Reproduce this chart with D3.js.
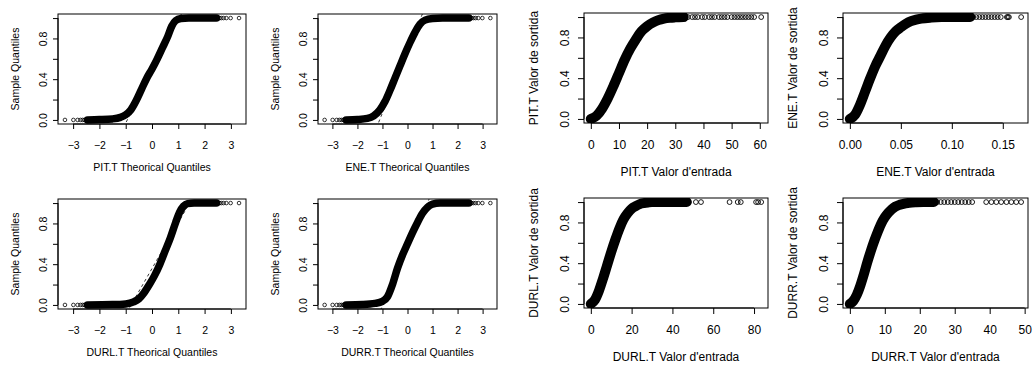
<!DOCTYPE html>
<html>
<head>
<meta charset="utf-8">
<script src="https://cdn.jsdelivr.net/npm/d3@7"></script>
<style>
  body { margin: 0; background: #fff; }
  svg { display: block; font-family: "Liberation Sans", Arial, sans-serif; }
</style>
</head>
<body>
<script>
"use strict";
(function(){
    // ---- data ----
    // qq panels: [theoretical quantile, sample quantile] along the dense band
    const pitQQ = [[-2.45,0],[-2,0.003],[-1.5,0.01],[-1.2,0.025],[-1.0,0.05],[-0.8,0.1],[-0.6,0.19],
        [-0.4,0.3],[-0.2,0.41],[0,0.5],[0.2,0.6],[0.4,0.71],[0.6,0.82],[0.75,0.92],[0.9,0.975],
        [1.1,0.995],[1.4,1.0],[2.45,1.0]]
    const eneQQ = [[-2.45,0],[-2,0.004],[-1.6,0.015],[-1.35,0.04],[-1.1,0.1],[-0.9,0.18],[-0.7,0.29],
        [-0.5,0.41],[-0.3,0.53],[-0.1,0.65],[0.1,0.76],[0.3,0.86],[0.5,0.94],[0.7,0.98],[1.0,0.995],
        [1.4,1.0],[2.45,1.0]]
    const durlQQ = [[-2.45,0],[-1.5,0.003],[-1.0,0.01],[-0.7,0.03],[-0.5,0.06],[-0.3,0.12],[-0.1,0.2],
        [0.1,0.29],[0.3,0.4],[0.5,0.53],[0.7,0.66],[0.9,0.81],[1.05,0.91],[1.2,0.97],[1.35,0.995],
        [1.6,1.0],[2.45,1.0]]
    const durrQQ = [[-2.45,0],[-1.8,0.004],[-1.3,0.015],[-1.0,0.035],[-0.8,0.08],[-0.6,0.2],[-0.4,0.36],
        [-0.2,0.49],[0,0.6],[0.2,0.71],[0.4,0.81],[0.6,0.9],[0.8,0.96],[1.0,0.99],[1.3,1.0],[2.45,1.0]]
    // sparse circles at both ends of every qq panel
    const qqTailLow = [-3.31, -2.99, -2.83, -2.72, -2.64, -2.57, -2.51]
    const qqTailHigh = [2.51, 2.57, 2.64, 2.72, 2.83, 2.99, 3.31]
    // dashed qq reference lines, two points each
    const pitLine = [[-0.94, 0.0], [0.9, 0.93]]
    const eneLine = [[-1.13, -0.01], [0.2, 0.8]]
    const durlLine = [[-0.86, -0.03], [0.25, 0.47]]
    const durrLine = [[-1.02, -0.02], [0.81, 1.01]]

    // transfer panels: [valor d'entrada, valor de sortida]
    const pitCurve = [[0,0],[2,0.03],[4,0.1],[6,0.2],[8,0.32],[10,0.45],[12,0.58],[14,0.69],[16,0.78],
        [18,0.86],[20,0.91],[22,0.945],[24,0.97],[26,0.985],[28,0.993],[30,0.997],[33,1.0]]
    const pitTail = [34.5, 36, 37, 38, 39.5, 40.5, 42, 43, 44, 45.5, 46.5, 47.5, 48.5, 50, 51, 52, 53,
        54, 55, 56, 57, 58, 60.5]
    const eneCurve = [[0,0],[0.005,0.04],[0.01,0.14],[0.015,0.27],[0.02,0.4],[0.025,0.52],[0.03,0.62],
        [0.035,0.72],[0.04,0.8],[0.045,0.86],[0.05,0.9],[0.055,0.935],[0.06,0.96],[0.065,0.975],
        [0.07,0.985],[0.08,0.995],[0.09,1.0],[0.118,1.0]]
    const eneTail = [0.121, 0.124, 0.127, 0.13, 0.133, 0.136, 0.139, 0.142, 0.145, 0.148, 0.154, 0.155,
        0.156, 0.168]
    const durlCurve = [[0,0],[2,0.04],[4,0.13],[6,0.25],[8,0.38],[10,0.51],[12,0.63],[14,0.74],[16,0.83],
        [18,0.89],[20,0.935],[22,0.96],[24,0.98],[26,0.99],[28,0.996],[30,1.0],[47,1.0]]
    const durlTail = [48, 51.5, 54, 68, 72, 73.5, 81, 82, 83.5]
    const durrCurve = [[0,0],[1,0.03],[2,0.09],[3,0.18],[4,0.29],[5,0.41],[6,0.52],[7,0.62],[8,0.71],
        [9,0.79],[10,0.85],[11,0.895],[12,0.93],[13,0.955],[14,0.97],[15,0.98],[17,0.993],[19,0.998],
        [21,1.0],[24,1.0]]
    const durrTail = [25, 26, 27, 28, 29, 30, 31, 32, 33, 34, 35, 39, 40.5, 41.9, 43.3, 44.8, 46.2,
        47.6, 49]

    // tick labels
    const qqTicks = [-3, -2, -1, 0, 1, 2, 3]
    const pitTicks = [0, 10, 20, 30, 40, 50, 60]
    const eneTicks = [0, 0.05, 0.10, 0.15]
    const durlTicks = [0, 20, 40, 60, 80]
    const durrTicks = [0, 10, 20, 30, 40, 50]
    const yTicks = [0, 0.2, 0.4, 0.6, 0.8, 1.0]
    const yLabelled = [0, 0.4, 0.8]

    const width = 1034, height = 367

    // styles for the two halves of the figure
    const smallStyle = { font: 10.5, tick: 5, lab: 21, title: 43, yLab: 15, yTitle: 43, r: 1.8, sw: 0.8, band: 7.5 }
    const bigStyle = { font: 12, tick: 6, lab: 22, title: 49, yLab: 19, yTitle: 50, r: 2.4, sw: 0.9, band: 10 }

    const minus = d => d3.format("")(d).replace("-", "\u2212")
    const both = qqTailLow.map(v => [v, 0]).concat(qqTailHigh.map(v => [v, 1]))

    const panels = [
        { curve: pitQQ, tail: both, line: pitLine, xTicks: qqTicks, fmt: minus,
          xTitle: "PIT.T Theorical Quantiles", yTitle: "Sample Quantiles", box: [58, 246, 14, 124], st: smallStyle },
        { curve: eneQQ, tail: both, line: eneLine, xTicks: qqTicks, fmt: minus,
          xTitle: "ENE.T Theorical Quantiles", yTitle: "Sample Quantiles", box: [318, 497, 14, 124], st: smallStyle },
        { curve: pitCurve, tail: pitTail.map(v => [v, 1]), xTicks: pitTicks, fmt: d3.format("d"),
          xTitle: "PIT.T Valor d'entrada", yTitle: "PIT.T Valor de sortida", box: [584, 768, 13, 123], st: bigStyle },
        { curve: eneCurve, tail: eneTail.map(v => [v, 1]), xTicks: eneTicks, fmt: d3.format(".2f"),
          xTitle: "ENE.T Valor d'entrada", yTitle: "ENE.T Valor de sortida", box: [843, 1028, 13, 123], st: bigStyle },
        { curve: durlQQ, tail: both, line: durlLine, xTicks: qqTicks, fmt: minus,
          xTitle: "DURL.T Theorical Quantiles", yTitle: "Sample Quantiles", box: [58, 246, 199, 309], st: smallStyle },
        { curve: durrQQ, tail: both, line: durrLine, xTicks: qqTicks, fmt: minus,
          xTitle: "DURR.T Theorical Quantiles", yTitle: "Sample Quantiles", box: [318, 497, 199, 309], st: smallStyle },
        { curve: durlCurve, tail: durlTail.map(v => [v, 1]), xTicks: durlTicks, fmt: d3.format("d"),
          xTitle: "DURL.T Valor d'entrada", yTitle: "DURL.T Valor de sortida", box: [584, 768, 198, 308], st: bigStyle },
        { curve: durrCurve, tail: durrTail.map(v => [v, 1]), xTicks: durrTicks, fmt: d3.format("d"),
          xTitle: "DURR.T Valor d'entrada", yTitle: "DURR.T Valor de sortida", box: [843, 1028, 198, 308], st: bigStyle }
    ]

    const svg = d3.select("body").append("svg")
        .attr("width", width)
        .attr("height", height)

    panels.forEach((p, i) => drawPanel(p, i))

    // R style range: data extent padded by 4% on each side
    function padded(ext) {
        const d = (ext[1] - ext[0]) * 0.04
        return [ext[0] - d, ext[1] + d]
    }

    function drawPanel(p, i) {
        const [x0, x1, y0, y1] = p.box
        const st = p.st
        const all = p.curve.concat(p.tail)
        const x = d3.scaleLinear().domain(padded(d3.extent(all, d => d[0]))).range([x0, x1])
        const y = d3.scaleLinear().domain(padded([0, 1])).range([y1, y0])

        const g = svg.append("g")
        const clipId = "clip" + i
        g.append("clipPath").attr("id", clipId)
            .append("rect").attr("x", x0).attr("y", y0).attr("width", x1 - x0).attr("height", y1 - y0)

        const plot = g.append("g").attr("clip-path", `url(#${clipId})`)

        // dashed qq line, extended across the plot
        if (p.line) {
            const [a, b] = p.line
            const slope = (b[1] - a[1]) / (b[0] - a[0])
            const xd = x.domain()
            plot.append("line")
                .attr("x1", x(xd[0])).attr("y1", y(a[1] + slope * (xd[0] - a[0])))
                .attr("x2", x(xd[1])).attr("y2", y(a[1] + slope * (xd[1] - a[0])))
                .attr("stroke", "#000")
                .attr("stroke-width", 0.8)
                .attr("stroke-dasharray", "3,3")
        }

        // dense band of points
        const line = d3.line().x(d => x(d[0])).y(d => y(d[1])).curve(d3.curveMonotoneX)
        plot.append("path")
            .attr("d", line(p.curve))
            .attr("fill", "none")
            .attr("stroke", "#000")
            .attr("stroke-width", st.band)
            .attr("stroke-linecap", "round")
            .attr("stroke-linejoin", "round")

        // sparse points
        plot.selectAll(".pt")
            .data(p.tail)
            .enter()
            .append("circle")
                .attr("cx", d => x(d[0]))
                .attr("cy", d => y(d[1]))
                .attr("r", st.r)
                .attr("fill", "none")
                .attr("stroke", "#000")
                .attr("stroke-width", st.sw)

        // box
        g.append("rect")
            .attr("x", x0).attr("y", y0)
            .attr("width", x1 - x0).attr("height", y1 - y0)
            .attr("fill", "none")
            .attr("stroke", "#000")
            .attr("stroke-width", 1)

        // x axis
        const xAxis = d3.axisBottom(x).tickValues(p.xTicks).tickFormat(p.fmt).tickSizeOuter(0).tickSize(st.tick)
        const gx = g.append("g").attr("transform", `translate(0,${y1})`).call(xAxis)
        gx.select(".domain").attr("d", `M${x(p.xTicks[0])},0H${x(p.xTicks[p.xTicks.length - 1])}`)
        gx.selectAll("text")
            .attr("y", st.lab)
            .attr("dy", "0.35em")
            .attr("fill", "#000")
            .style("font-size", st.font + "px")
            .style("font-family", "Liberation Sans, Arial, sans-serif")

        // y axis
        const yAxis = d3.axisLeft(y).tickValues(yTicks)
            .tickFormat(d => yLabelled.includes(d) ? d3.format(".1f")(d) : "")
            .tickSizeOuter(0).tickSize(st.tick)
        const gy = g.append("g").attr("transform", `translate(${x0},0)`).call(yAxis)
        gy.select(".domain").attr("d", `M0,${y(0)}V${y(1)}`)
        gy.selectAll("text")
            .attr("x", 0).attr("y", 0)
            .attr("dy", "0.35em")
            .attr("text-anchor", "middle")
            .attr("transform", `translate(${-st.yLab},0) rotate(-90)`)
            .attr("fill", "#000")
            .style("font-size", st.font + "px")
            .style("font-family", "Liberation Sans, Arial, sans-serif")

        // titles
        g.append("text")
            .attr("x", (x0 + x1) / 2)
            .attr("y", y1 + st.title)
            .attr("dy", "0.35em")
            .attr("text-anchor", "middle")
            .style("font-size", st.font + "px")
            .text(p.xTitle)

        g.append("text")
            .attr("transform", `translate(${x0 - st.yTitle},${(y0 + y1) / 2}) rotate(-90)`)
            .attr("dy", "0.35em")
            .attr("text-anchor", "middle")
            .style("font-size", st.font + "px")
            .text(p.yTitle)
    }
})()
</script>
</body>
</html>
